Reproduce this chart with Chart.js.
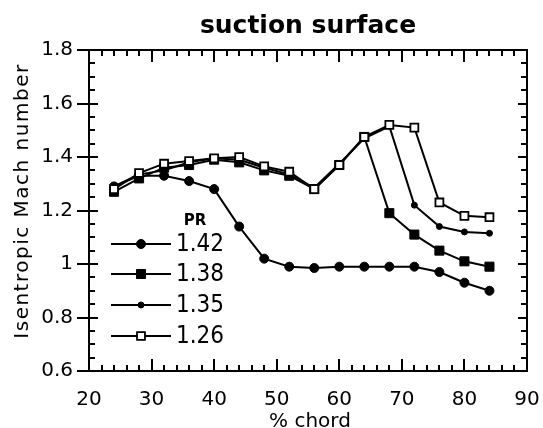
<!DOCTYPE html>
<html>
<head>
<meta charset="utf-8">
<title>suction surface</title>
<script src="https://cdn.jsdelivr.net/npm/chart.js@4/dist/chart.umd.min.js"></script>
<style>
  body { margin: 0; background: #fff; }
  canvas { display: block; }
</style>
</head>
<body>
<canvas id="machChart" width="543" height="428"></canvas>
<script>
  // % chord stations
  const chord = [24, 28, 32, 36, 40, 44, 48, 52, 56, 60, 64, 68, 72, 76, 80, 84];

  // isentropic Mach number per pressure ratio
  const pr142 = [1.29, 1.33, 1.33, 1.31, 1.28, 1.14, 1.02, 0.99, 0.985, 0.99, 0.99, 0.99, 0.99, 0.97, 0.93, 0.90];
  const pr138 = [1.27, 1.32, 1.36, 1.37, 1.39, 1.38, 1.35, 1.33, 1.28, 1.37, 1.475, 1.19, 1.11, 1.05, 1.01, 0.99];
  const pr135 = [1.29, 1.335, 1.35, 1.38, 1.395, 1.39, 1.36, 1.335, 1.285, 1.375, 1.47, 1.515, 1.22, 1.14, 1.12, 1.115];
  const pr126 = [1.28, 1.34, 1.375, 1.385, 1.395, 1.40, 1.365, 1.345, 1.28, 1.37, 1.475, 1.52, 1.51, 1.23, 1.18, 1.175];

  const prLabels = ["1.42", "1.38", "1.35", "1.26"];

  const xTicks = [20, 30, 40, 50, 60, 70, 80, 90];
  const yTicks = [0.6, 0.8, 1, 1.2, 1.4, 1.6, 1.8];

  const FONT = '"DejaVu Sans", sans-serif';

  function toPoints(values) {
    return chord.map((c, i) => ({ x: c, y: values[i] }));
  }

  function series(label, values, style) {
    return Object.assign({
      label: label,
      data: toPoints(values),
      borderColor: "#000",
      borderWidth: 2,
      pointBackgroundColor: "#000",
      pointBorderColor: "#000",
      pointBorderWidth: 1,
      tension: 0,
      fill: false,
    }, style);
  }

  const datasets = [
    series(prLabels[3], pr126, { pointStyle: "rect", pointRadius: 5.6, pointBackgroundColor: "#fff", pointBorderWidth: 1.8 }),
    series(prLabels[0], pr142, { pointStyle: "circle", pointRadius: 4.5 }),
    series(prLabels[1], pr138, { pointStyle: "rect", pointRadius: 6.4 }),
    series(prLabels[2], pr135, { pointStyle: "circle", pointRadius: 3 }),
  ];

  // frame, inward ticks on all four sides, titles and the PR key
  const framePlugin = {
    id: "framePlugin",
    afterDraw(chart) {
      const { ctx, chartArea: a, scales } = chart;
      const xs = scales.x, ys = scales.y;
      ctx.save();
      ctx.strokeStyle = "#000";
      ctx.lineWidth = 2;
      ctx.strokeRect(a.left, a.top, a.right - a.left, a.bottom - a.top);

      ctx.beginPath();
      for (let v = xs.min; v <= xs.max + 1e-9; v += 2) {
        const px = Math.round(xs.getPixelForValue(v));
        const len = xTicks.includes(v) ? 12 : 6;
        ctx.moveTo(px, a.top); ctx.lineTo(px, a.top + len);
        ctx.moveTo(px, a.bottom); ctx.lineTo(px, a.bottom - len);
      }
      for (let i = 0; i <= 24; i++) {
        const v = +(0.6 + i * 0.05).toFixed(2);
        const py = Math.round(ys.getPixelForValue(v));
        const major = yTicks.includes(v);
        const len = major ? 9 : 6;
        ctx.moveTo(major ? a.left - 12 : a.left, py); ctx.lineTo(a.left + len, py);
        ctx.moveTo(a.right, py); ctx.lineTo(a.right - len, py);
      }
      ctx.stroke();

      ctx.fillStyle = "#000";
      ctx.textAlign = "center";
      ctx.textBaseline = "alphabetic";
      ctx.font = "bold 25px " + FONT;
      ctx.fillText("suction surface", (a.left + a.right) / 2, 33);

      ctx.font = "20px " + FONT;
      ctx.fillText("% chord", 310, 427);

      ctx.save();
      ctx.translate(23, 201);
      ctx.rotate(-Math.PI / 2);
      ctx.textBaseline = "middle";
      ctx.font = "20px " + FONT;
      ctx.letterSpacing = "1.5px";
      ctx.fillText("Isentropic Mach number", 0, 0);
      ctx.restore();

      // key
      ctx.textBaseline = "middle";
      ctx.font = "bold 15px " + FONT;
      ctx.fillText("PR", 195, 221);
      const rows = [244, 274, 305, 336];
      const order = [1, 2, 3, 0];
      ctx.font = '24px "DejaVu Sans Condensed", ' + FONT;
      ctx.textAlign = "left";
      order.forEach((di, r) => {
        const ds = datasets[di];
        const y = rows[r];
        ctx.beginPath();
        ctx.lineWidth = 2;
        ctx.moveTo(111, y); ctx.lineTo(171, y);
        ctx.stroke();
        ctx.fillStyle = ds.pointBackgroundColor;
        ctx.lineWidth = ds.pointBorderWidth;
        Chart.helpers.drawPoint(ctx, {
          pointStyle: ds.pointStyle,
          radius: ds.pointRadius,
          rotation: 0,
          borderWidth: ds.pointBorderWidth,
        }, 141, y);
        ctx.fillStyle = "#000";
        ctx.fillText(ds.label, 176, y + 1);
      });
      ctx.restore();
    },
  };

  new Chart(document.getElementById("machChart").getContext("2d"), {
    type: "line",
    data: { datasets: datasets },
    options: {
      responsive: false,
      animation: false,
      layout: { padding: { top: 50, right: 16, left: 0, bottom: 0 } },
      plugins: { legend: { display: false }, title: { display: false }, tooltip: { enabled: false } },
      scales: {
        x: {
          type: "linear",
          min: 20,
          max: 90,
          afterFit: (s) => { s.height = 57; s.paddingLeft = 0; s.paddingRight = 0; },
          afterBuildTicks: (s) => { s.ticks = xTicks.map((v) => ({ value: v })); },
          grid: { display: false, drawTicks: false },
          border: { display: false },
          ticks: { color: "#000", font: { family: FONT, size: 20 }, padding: 17, maxRotation: 0 },
        },
        y: {
          type: "linear",
          min: 0.6,
          max: 1.8,
          afterFit: (s) => { s.width = 89; s.paddingTop = 0; s.paddingBottom = 0; },
          afterBuildTicks: (s) => { s.ticks = yTicks.map((v) => ({ value: v })); },
          grid: { display: false, drawTicks: false },
          border: { display: false },
          ticks: {
            color: "#000",
            font: { family: FONT, size: 20 },
            padding: 16,
            callback: (v) => String(+v.toFixed(1)),
          },
        },
      },
    },
    plugins: [framePlugin],
  });
</script>
</body>
</html>
